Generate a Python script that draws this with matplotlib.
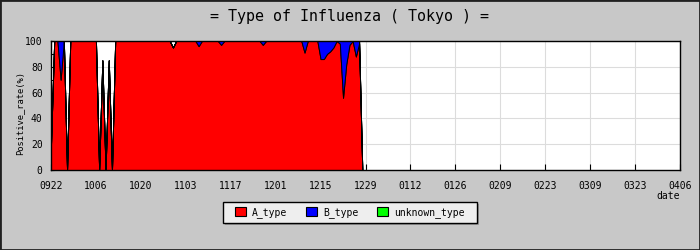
import matplotlib
matplotlib.use('Agg')
import matplotlib.pyplot as plt
from matplotlib.patches import Patch, Rectangle
import numpy as np

title = '= Type of Influenza ( Tokyo ) ='
tick_labels = ['0922', '1006', '1020', '1103', '1117', '1201', '1215', '1229',
               '0112', '0126', '0209', '0223', '0309', '0323', '0406']
series_names = ['A_type', 'B_type', 'unknown_type']
series_colors = ['#ff0000', '#0000ff', '#00ff00']

# daily positive rate (%), one row = two weeks, starting 0922
a_type = [20, 100, 100, 70, 100, 0, 100, 100, 100, 100, 100, 100, 100, 100,
          100, 0, 85, 0, 85, 0, 100, 100, 100, 100, 100, 100, 100, 100,
          100, 100, 100, 100, 100, 100, 100, 100, 100, 100, 95, 100, 100, 100,
          100, 100, 100, 100, 96, 100, 100, 100, 100, 100, 100, 97, 100, 100,
          100, 100, 100, 100, 100, 100, 100, 100, 100, 100, 97, 100, 100, 100,
          100, 100, 100, 100, 100, 100, 100, 100, 100, 91, 100, 100, 100, 100,
          86, 86, 90, 92, 95, 100, 98, 56, 82, 97, 100, 88, 98, 0]
b_type = [0, 0, 0, 30, 0, 0, 0, 0, 0, 0, 0, 0, 0, 0,
          0, 0, 0, 0, 0, 0, 0, 0, 0, 0, 0, 0, 0, 0,
          0, 0, 0, 0, 0, 0, 0, 0, 0, 0, 0, 0, 0, 0,
          0, 0, 0, 0, 4, 0, 0, 0, 0, 0, 0, 3, 0, 0,
          0, 0, 0, 0, 0, 0, 0, 0, 0, 0, 3, 0, 0, 0,
          0, 0, 0, 0, 0, 0, 0, 0, 0, 9, 0, 0, 0, 0,
          14, 14, 10, 8, 5, 0, 2, 44, 18, 3, 0, 12, 2, 0]
unknown_type = [0, 0, 0, 0, 0, 0, 0, 0, 0, 0, 0, 0, 0, 0,
                0, 0, 0, 0, 0, 0, 0, 0, 0, 0, 0, 0, 0, 0,
                0, 0, 0, 0, 0, 0, 0, 0, 0, 0, 0, 0, 0, 0,
                0, 0, 0, 0, 0, 0, 0, 0, 0, 0, 0, 0, 0, 0,
                0, 0, 0, 0, 0, 0, 0, 0, 0, 0, 0, 0, 0, 0,
                0, 0, 0, 0, 0, 0, 0, 0, 0, 0, 0, 0, 0, 0,
                0, 0, 0, 0, 0, 0, 0, 0, 0, 0, 0, 0, 0, 0]

W, H = 700, 250


def fx(px):
    return px / W


def fy(py):
    return 1 - py / H


plt.rcParams['font.family'] = ['DejaVu Sans Mono']
fig = plt.figure(figsize=(W / 100, H / 100), dpi=100, facecolor='#c8c8c8')
ax = fig.add_axes([fx(51), fy(170), fx(680) - fx(51), fy(41) - fy(170)])

days = np.arange(len(a_type))
ax.stackplot(days, a_type, b_type, unknown_type, colors=series_colors,
             edgecolor='black', linewidth=0.7)

ax.set_xlim(0, 14 * (len(tick_labels) - 1))
ax.set_ylim(0, 100)
ax.set_xticks(np.arange(len(tick_labels)) * 14)
ax.set_xticklabels(tick_labels)
ax.set_yticks(np.arange(0, 101, 20))
ax.set_yticks(np.arange(10, 100, 20), minor=True)
ax.tick_params(axis='x', direction='in', length=4, width=0.8, pad=8, labelsize=7)
ax.tick_params(axis='y', which='both', direction='in', length=2.5, width=0.8, pad=6, labelsize=7)
ax.set_axisbelow(True)
ax.grid(True, which='major', color='#dcdcdc', linewidth=0.8)
for s in ax.spines.values():
    s.set_linewidth(1.0)

fig.text(fx(350), fy(21), title, ha='center', va='baseline', fontsize=10.8)
fig.text(fx(20), fy(113), 'Positive_rate(%)', rotation=90, ha='center', va='center', fontsize=6.3)
fig.text(fx(680), fy(196), 'date', ha='right', va='center', fontsize=7)

# legend box with shadow
fig.patches.append(Rectangle((fx(225), fy(225)), 254 / W, 21 / H, transform=fig.transFigure,
                             facecolor='#9a9a9a', edgecolor='none', zorder=1))
fig.patches.append(Rectangle((fx(223), fy(223)), 254 / W, 21 / H, transform=fig.transFigure,
                             facecolor='#eeeeee', edgecolor='black', linewidth=1.0, zorder=2))
handles = [Patch(facecolor=c, edgecolor='black', linewidth=0.8) for c in series_colors]
fig.legend(handles, series_names, loc='center', bbox_to_anchor=(fx(350), fy(212.5)),
           bbox_transform=fig.transFigure, ncol=3, frameon=False, fontsize=7,
           handlelength=1.13, handleheight=1.05, handletextpad=0.62, columnspacing=1.95)

fig.patches.append(Rectangle((0, 0), 1, 1, transform=fig.transFigure, fill=False,
                             edgecolor='#202020', linewidth=2.0, zorder=5))

fig.savefig('out.png', dpi=100, facecolor=fig.get_facecolor())
